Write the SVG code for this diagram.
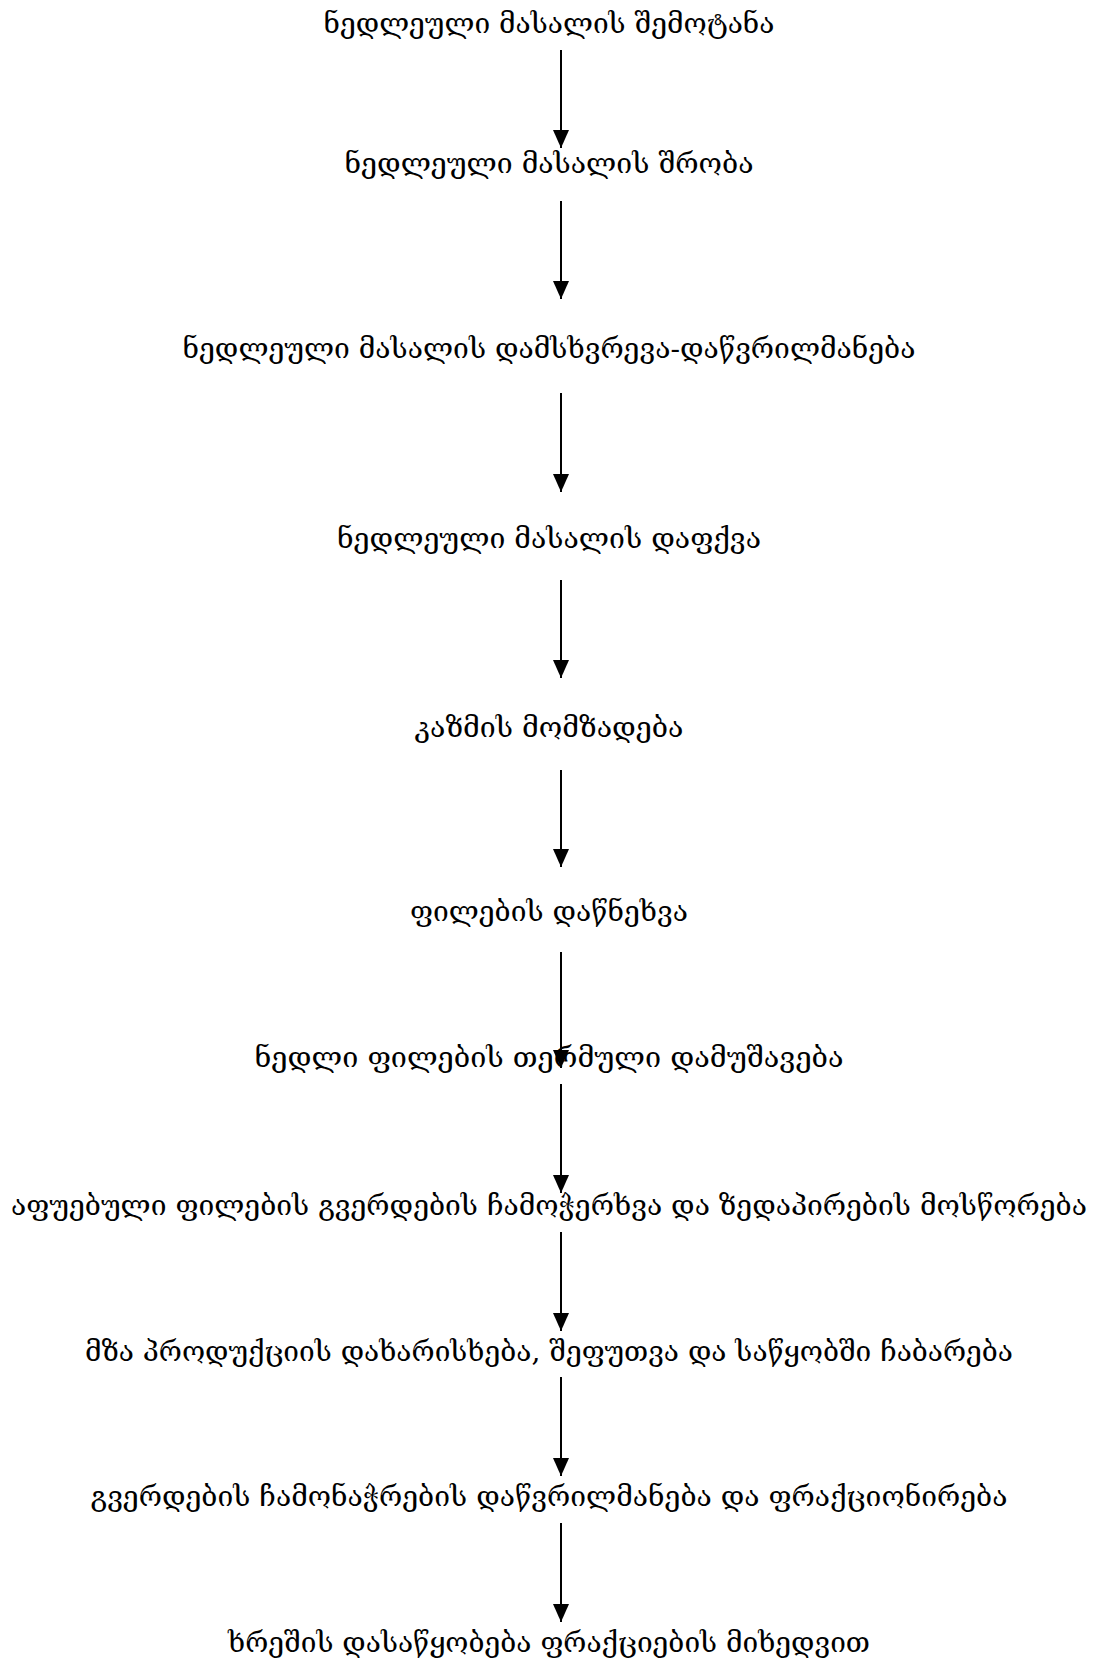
<svg xmlns="http://www.w3.org/2000/svg" width="1098" height="1659" viewBox="0 0 1098 1659">
<defs>
<style>
text{font-family:"DejaVu Serif","DejaVu Sans",serif;font-size:28px;fill:#000;text-anchor:middle}
.c line{stroke:#000;stroke-width:2;fill:none}
</style>
<marker id="ah" viewBox="0 0 18 16" refX="18" refY="8" markerWidth="18" markerHeight="16" markerUnits="userSpaceOnUse" orient="auto">
<path d="M0,0 L18,8 L0,16 Z" fill="#000"/>
</marker>
</defs>
<rect width="1098" height="1659" fill="#fff"/>
<g class="c" id="connectors">
<line x1="561" y1="50" x2="561" y2="148" marker-end="url(#ah)"/>
<line x1="561" y1="201" x2="561" y2="299" marker-end="url(#ah)"/>
<line x1="561" y1="393" x2="561" y2="492" marker-end="url(#ah)"/>
<line x1="561" y1="580" x2="561" y2="678" marker-end="url(#ah)"/>
<line x1="561" y1="770" x2="561" y2="867" marker-end="url(#ah)"/>
<line x1="561" y1="952" x2="561" y2="1068" marker-end="url(#ah)"/>
<line x1="561" y1="1084" x2="561" y2="1193" marker-end="url(#ah)"/>
<line x1="561" y1="1232" x2="561" y2="1331" marker-end="url(#ah)"/>
<line x1="561" y1="1377" x2="561" y2="1476" marker-end="url(#ah)"/>
<line x1="561" y1="1523" x2="561" y2="1622" marker-end="url(#ah)"/>
</g>
<g id="n1"><text x="549" y="33" textLength="451" lengthAdjust="spacingAndGlyphs">ნედლეული მასალის შემოტანა</text></g>
<g id="n2"><text x="549" y="173" textLength="409" lengthAdjust="spacingAndGlyphs">ნედლეული მასალის შრობა</text></g>
<g id="n3"><text x="549" y="358" textLength="733" lengthAdjust="spacingAndGlyphs">ნედლეული მასალის დამსხვრევა-დაწვრილმანება</text></g>
<g id="n4"><text x="549" y="548" textLength="424" lengthAdjust="spacingAndGlyphs">ნედლეული მასალის დაფქვა</text></g>
<g id="n5"><text x="549" y="737" textLength="269" lengthAdjust="spacingAndGlyphs">კაზმის მომზადება</text></g>
<g id="n6"><text x="549" y="921" textLength="278" lengthAdjust="spacingAndGlyphs">ფილების დაწნეხვა</text></g>
<g id="n7"><text x="549" y="1067" textLength="589" lengthAdjust="spacingAndGlyphs">ნედლი ფილების თერმული დამუშავება</text></g>
<g id="n8"><text x="549" y="1215" textLength="1076" lengthAdjust="spacingAndGlyphs">აფუებული ფილების გვერდების ჩამოჭერხვა და ზედაპირების მოსწორება</text></g>
<g id="n9"><text x="549" y="1361" textLength="928" lengthAdjust="spacingAndGlyphs">მზა პროდუქციის დახარისხება, შეფუთვა და საწყობში ჩაბარება</text></g>
<g id="n10"><text x="549" y="1506" textLength="917" lengthAdjust="spacingAndGlyphs">გვერდების ჩამონაჭრების დაწვრილმანება და ფრაქციონირება</text></g>
<g id="n11"><text x="549" y="1652" textLength="642" lengthAdjust="spacingAndGlyphs">ხრეშის დასაწყობება ფრაქციების მიხედვით</text></g>
</svg>
